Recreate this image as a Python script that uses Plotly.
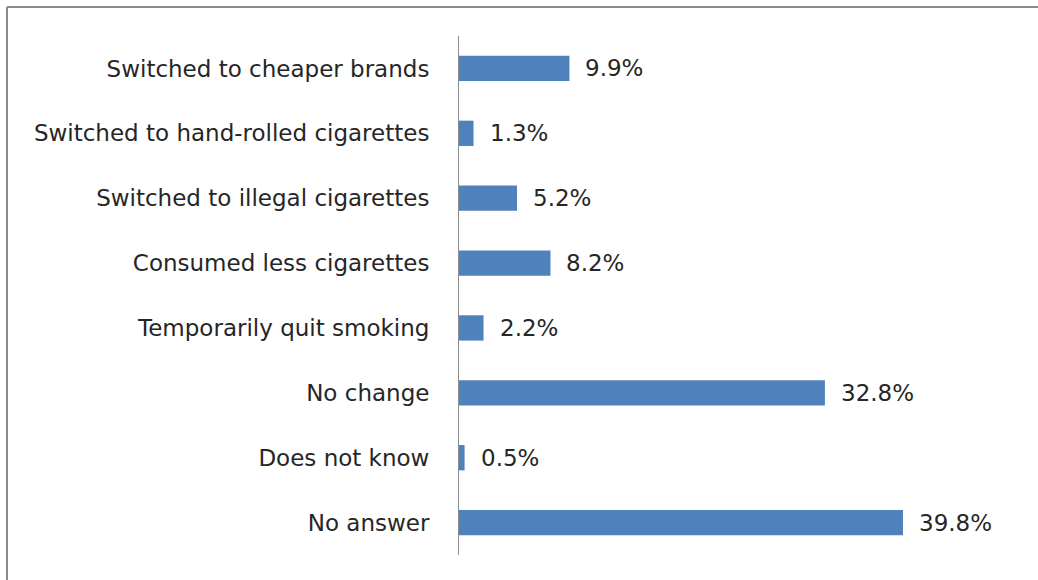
import plotly.graph_objects as go

categories = [
    "Switched to cheaper brands",
    "Switched to hand-rolled cigarettes",
    "Switched to illegal cigarettes",
    "Consumed less cigarettes",
    "Temporarily quit smoking",
    "No change",
    "Does not know",
    "No answer",
]
values = [9.9, 1.3, 5.2, 8.2, 2.2, 32.8, 0.5, 39.8]
labels = [f"{v:.1f}%" for v in values]

FONT = "DejaVu Sans"
TXT = "#262626"

fig = go.Figure(go.Bar(
    x=values, y=categories, orientation="h",
    marker=dict(color="#4F81BD", line=dict(width=0)),
    width=0.39,
    hoverinfo="skip",
))

annotations = [
    dict(x=v, y=c, text=t, xref="x", yref="y", xanchor="left", yanchor="middle",
         xshift=14, showarrow=False, font=dict(family=FONT, size=23, color=TXT))
    for v, c, t in zip(values, categories, labels)
]

L, R, T, B = 459, 77, 36, 25
W, H = 1038, 580
pw = W - L - R
ph = H - T - B
bx = 7
by = 7
ytop = 1 + (T - by) / ph
xleft = -(L - bx) / pw
shapes = [
    dict(type="line", xref="paper", yref="paper",
         x0=xleft, x1=xleft, y0=ytop, y1=-B / ph - 0.05,
         line=dict(color="#8c8c8c", width=2)),
    dict(type="line", xref="paper", yref="paper",
         x0=xleft, x1=(W - L) / pw + 0.05, y0=ytop, y1=ytop,
         line=dict(color="#8c8c8c", width=2)),
]

fig.update_layout(
    width=W, height=H,
    margin=dict(l=L, r=R, t=T, b=B),
    paper_bgcolor="white", plot_bgcolor="white",
    showlegend=False,
    annotations=annotations,
    shapes=shapes,
    xaxis=dict(range=[0, 45], visible=False, fixedrange=True),
    yaxis=dict(autorange="reversed", showline=True, linecolor="#8c8c8c", linewidth=1,
               ticks="", ticklabelstandoff=24,
               tickfont=dict(family=FONT, size=23, color=TXT), showgrid=False),
    bargap=0.61,
)

fig.write_html("out.html")
